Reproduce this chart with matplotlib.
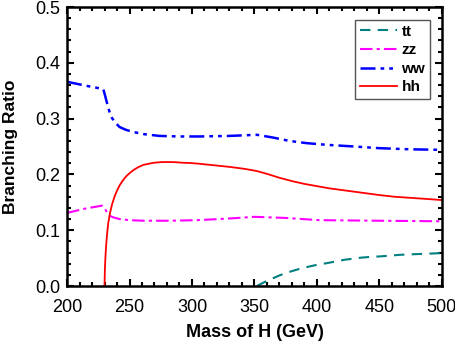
import matplotlib
matplotlib.use("Agg")
import matplotlib.pyplot as plt
from matplotlib.ticker import MultipleLocator

plt.rcParams['font.family'] = ['Liberation Sans', 'DejaVu Sans']

# Data
mass_ww = [200, 215, 229, 230, 232, 234, 236, 239, 242, 247, 253, 262, 274, 290, 306, 330, 352, 365, 378, 392, 408, 430, 450, 475, 500]
br_ww = [0.366, 0.359, 0.353, 0.345, 0.328, 0.312, 0.301, 0.292, 0.285, 0.280, 0.276, 0.272, 0.269, 0.268, 0.268, 0.269, 0.271, 0.266, 0.260, 0.256, 0.253, 0.250, 0.247, 0.245, 0.244]

mass_zz = [200, 215, 228, 231, 233, 237, 242, 250, 261, 282, 304, 330, 350, 375, 402, 450, 500]
br_zz = [0.131, 0.139, 0.144, 0.136, 0.127, 0.123, 0.120, 0.118, 0.117, 0.117, 0.118, 0.121, 0.124, 0.122, 0.118, 0.117, 0.116]

mass_hh = [230, 230.3, 230.7, 231.2, 232, 233, 234.4, 236, 238, 240, 242, 244, 246, 248, 251, 254, 257, 261, 265, 270, 275, 280, 286, 292, 298, 304, 315, 330, 342, 352, 360, 370, 380, 390, 400, 410, 420, 430, 440, 450, 462, 475, 488, 500]
br_hh = [0.0, 0.03, 0.05, 0.07, 0.092, 0.113, 0.131, 0.146, 0.160, 0.171, 0.180, 0.187, 0.193, 0.198, 0.204, 0.209, 0.213, 0.217, 0.219, 0.221, 0.222, 0.2222, 0.222, 0.221, 0.2205, 0.2195, 0.217, 0.2135, 0.210, 0.206, 0.201, 0.194, 0.188, 0.183, 0.179, 0.175, 0.172, 0.169, 0.166, 0.163, 0.160, 0.158, 0.156, 0.154]

mass_tt = [352, 358, 364, 370, 376, 382, 388, 394, 400, 408, 415, 422, 429, 436, 442, 450, 456, 467, 478, 489, 500]
br_tt = [0.0, 0.007, 0.013, 0.019, 0.024, 0.028, 0.032, 0.035, 0.038, 0.041, 0.044, 0.047, 0.049, 0.051, 0.052, 0.053, 0.054, 0.056, 0.057, 0.058, 0.059]

fig = plt.figure(figsize=(4.56, 3.42), dpi=100)
ax = fig.add_axes([0.147, 0.1637, 0.822, 0.8158])

ax.plot(mass_tt, br_tt, color='#008080', linestyle=(0, (5, 3.5)), lw=1.5, label='tt')
ax.plot(mass_zz, br_zz, color='#ff00ff', linestyle=(0, (6, 2, 1.5, 2)), lw=1.5, label='zz')
ax.plot(mass_ww, br_ww, color='#0000ff', linestyle=(0, (6, 2, 1.5, 2, 1.5, 2)), lw=1.8, label='ww')
ax.plot(mass_hh, br_hh, color='#ff0000', linestyle='-', lw=1.3, label='hh')

ax.set_xlim(200, 500)
ax.set_ylim(0, 0.5)
ax.xaxis.set_major_locator(MultipleLocator(50))
ax.xaxis.set_minor_locator(MultipleLocator(10))
ax.yaxis.set_major_locator(MultipleLocator(0.1))
ax.yaxis.set_minor_locator(MultipleLocator(0.02))
ax.yaxis.set_major_formatter(matplotlib.ticker.FormatStrFormatter('%.1f'))
ax.tick_params(which='both', direction='in', top=True, right=True, width=1.5, labelsize=13)
ax.tick_params(which='major', length=5)
ax.tick_params(axis='x', which='major', pad=9)
ax.tick_params(axis='y', which='major', pad=5)
ax.tick_params(which='minor', length=3)
for s in ax.spines.values():
    s.set_linewidth(1.8)

ax.set_xlabel('Mass of H (GeV)', fontsize=13, fontweight='bold', labelpad=6)
ax.set_ylabel('Branching Ratio', fontsize=12.5, fontweight='bold', labelpad=12)

leg = ax.legend(loc='upper right', bbox_to_anchor=(0.968, 0.953), fancybox=False,
                edgecolor='#555555', prop={'weight': 'bold', 'size': 11},
                handlelength=2.45, handletextpad=0.3, labelspacing=0.3,
                borderpad=0.3, borderaxespad=0, framealpha=1)
leg.get_frame().set_linewidth(1.0)

fig.savefig('out.png', dpi=100)
